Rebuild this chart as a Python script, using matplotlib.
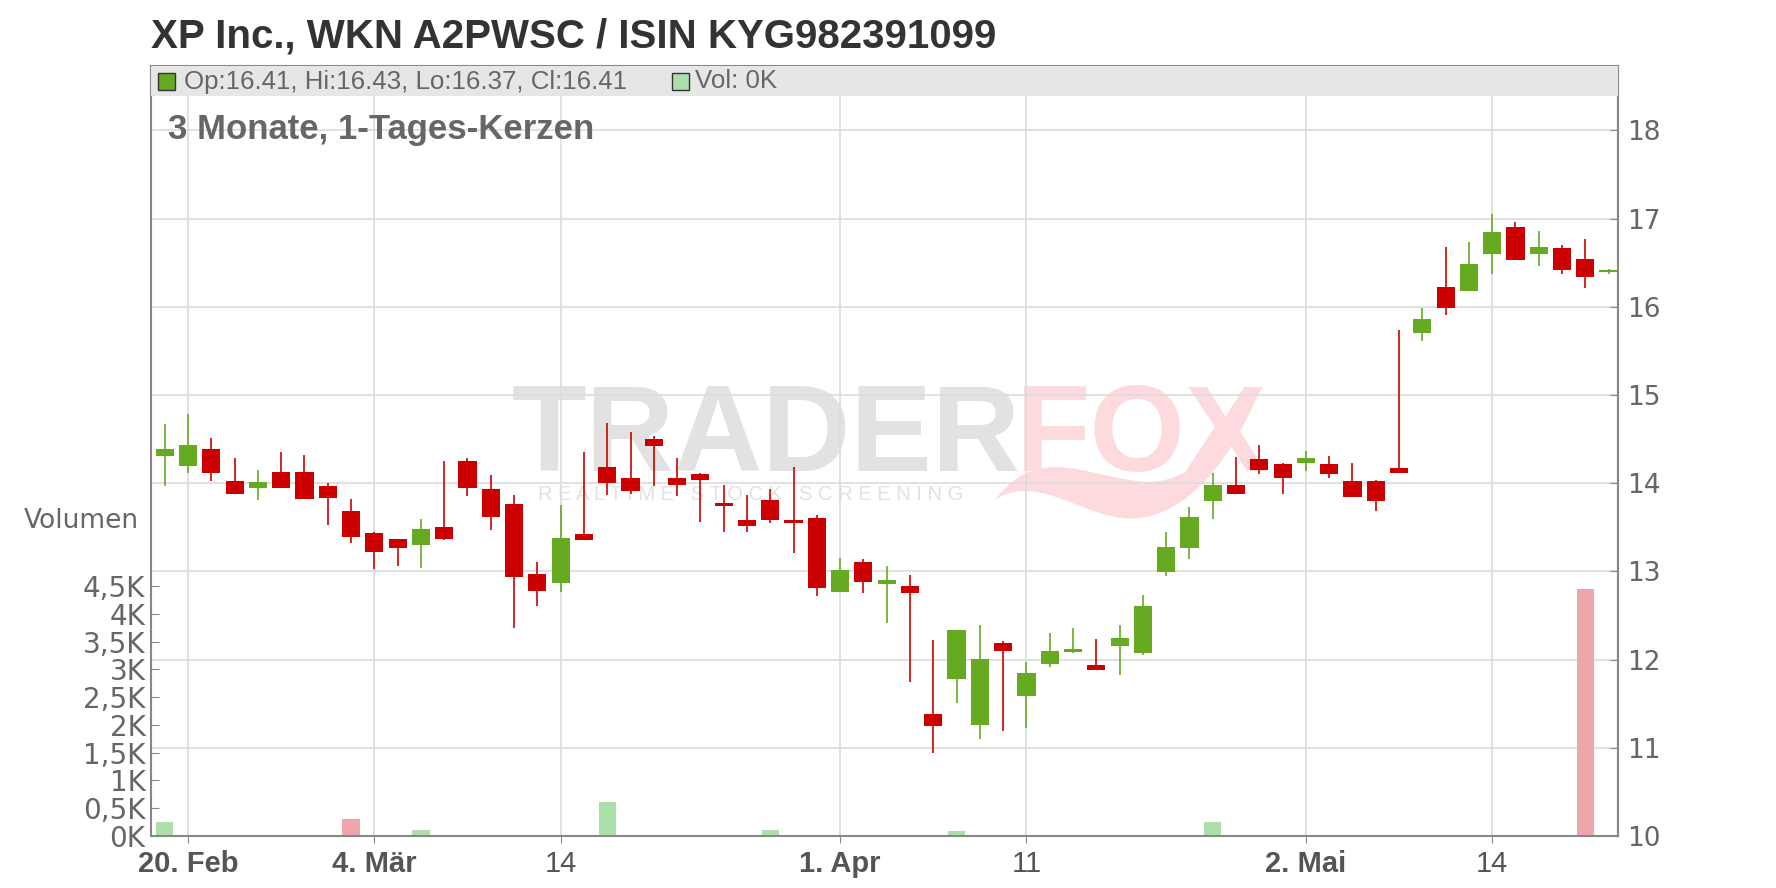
import matplotlib
matplotlib.use("Agg")
import matplotlib.pyplot as plt
import matplotlib.transforms as mtransforms
from matplotlib.patches import Rectangle, PathPatch
from matplotlib.path import Path

plt.rcParams['font.family'] = ['Liberation Sans', 'DejaVu Sans']

# --- daten (Xetra-Handelstage 19.02.2025 - 21.05.2025) ---
dates = ["2025-02-19", "2025-02-20", "2025-02-21", "2025-02-24", "2025-02-25", "2025-02-26",
         "2025-02-27", "2025-02-28", "2025-03-03", "2025-03-04", "2025-03-05", "2025-03-06",
         "2025-03-07", "2025-03-10", "2025-03-11", "2025-03-12", "2025-03-13", "2025-03-14",
         "2025-03-17", "2025-03-18", "2025-03-19", "2025-03-20", "2025-03-21", "2025-03-24",
         "2025-03-25", "2025-03-26", "2025-03-27", "2025-03-28", "2025-03-31", "2025-04-01",
         "2025-04-02", "2025-04-03", "2025-04-04", "2025-04-07", "2025-04-08", "2025-04-09",
         "2025-04-10", "2025-04-11", "2025-04-14", "2025-04-15", "2025-04-16", "2025-04-17",
         "2025-04-22", "2025-04-23", "2025-04-24", "2025-04-25", "2025-04-28", "2025-04-29",
         "2025-04-30", "2025-05-02", "2025-05-05", "2025-05-06", "2025-05-07", "2025-05-08",
         "2025-05-09", "2025-05-12", "2025-05-13", "2025-05-14", "2025-05-15", "2025-05-16",
         "2025-05-19", "2025-05-20", "2025-05-21"]

opens = [14.31, 14.20, 14.39, 14.02, 13.94, 14.13, 14.13, 13.97, 13.69, 13.43,
         13.37, 13.30, 13.50, 14.25, 13.93, 13.76, 12.97, 12.87, 13.42, 14.18,
         14.06, 14.50, 14.06, 14.10, 13.77, 13.58, 13.81, 13.58, 13.60, 12.77,
         13.105, 12.86, 12.84, 11.38, 11.78, 11.26, 12.19, 11.59, 11.95, 12.09,
         11.94, 12.15, 12.08, 12.99, 13.26, 13.80, 13.985, 14.27, 14.22, 14.23,
         14.22, 14.02, 14.02, 14.17, 15.70, 16.22, 16.18, 16.60, 16.90, 16.60,
         16.67, 16.54, 16.41]
highs = [14.67, 14.78, 14.51, 14.28, 14.15, 14.35, 14.32, 14.00, 13.82, 13.45,
         13.37, 13.59, 14.25, 14.28, 14.09, 13.87, 13.11, 13.75, 14.35, 14.68,
         14.58, 14.53, 14.28, 14.11, 13.98, 13.87, 13.93, 14.18, 13.64, 13.15,
         13.14, 13.06, 12.96, 12.22, 12.33, 12.39, 12.21, 11.97, 12.30, 12.36,
         12.23, 12.39, 12.73, 13.45, 13.735, 14.12, 14.30, 14.43, 14.23, 14.37,
         14.31, 14.23, 14.04, 15.74, 15.99, 16.68, 16.73, 17.05, 16.96, 16.86,
         16.70, 16.77, 16.43]
lows = [13.97, 14.12, 14.02, 13.88, 13.81, 13.94, 13.82, 13.53, 13.32, 13.03,
        13.06, 13.04, 13.36, 13.85, 13.47, 12.36, 12.61, 12.77, 13.36, 13.87,
        13.88, 13.97, 13.86, 13.56, 13.45, 13.45, 13.55, 13.21, 12.72, 12.77,
        12.75, 12.41, 11.75, 10.94, 11.51, 11.10, 11.19, 11.23, 11.92, 12.07,
        11.885, 11.83, 12.05, 12.95, 13.14, 13.59, 13.875, 14.10, 13.875, 14.14,
        14.06, 13.84, 13.68, 14.11, 15.61, 15.91, 16.18, 16.37, 16.53, 16.46,
        16.37, 16.21, 16.37]
closes = [14.39, 14.43, 14.11, 13.88, 14.01, 13.94, 13.82, 13.83, 13.39, 13.22,
          13.26, 13.48, 13.37, 13.94, 13.62, 12.94, 12.78, 13.38, 13.36, 14.00,
          13.91, 14.42, 13.98, 14.04, 13.74, 13.52, 13.585, 13.55, 12.81, 13.015,
          12.88, 12.90, 12.76, 11.25, 12.33, 12.01, 12.10, 11.85, 12.10, 12.12,
          11.885, 12.25, 12.61, 13.28, 13.62, 13.985, 13.875, 14.15, 14.06, 14.29,
          14.10, 13.84, 13.80, 14.11, 15.86, 15.985, 16.49, 16.85, 16.53, 16.68,
          16.42, 16.34, 16.41]
# volumen in tausend stueck
volumes = [0.25, 0, 0.02, 0, 0, 0, 0, 0, 0.30, 0,
           0, 0.11, 0, 0, 0, 0, 0, 0, 0, 0.61,
           0, 0, 0, 0, 0, 0, 0.11, 0, 0, 0,
           0, 0, 0, 0, 0.09, 0, 0, 0, 0, 0,
           0, 0, 0, 0, 0, 0.25, 0, 0, 0, 0,
           0, 0, 0, 0, 0, 0, 0, 0, 0, 0,
           0, 4.45, 0]

tick_dates = ["2025-02-20", "2025-03-04", "2025-03-14", "2025-04-01",
              "2025-04-11", "2025-05-02", "2025-05-14"]
tick_labels = ["20. Feb", "4. Mär", "14", "1. Apr", "11", "2. Mai", "14"]
tick_bold = [True, True, False, True, False, True, False]

price_ticks = [10, 11, 12, 13, 14, 15, 16, 17, 18]
vol_ticks = [0, 0.5, 1, 1.5, 2, 2.5, 3, 3.5, 4, 4.5]
vol_labels = ["0K", "0,5K", "1K", "1,5K", "2K", "2,5K", "3K", "3,5K", "4K", "4,5K"]

title = "XP Inc., WKN A2PWSC / ISIN KYG982391099"
subtitle = "3 Monate, 1-Tages-Kerzen"

GREEN = "#66aa22"
RED = "#cc0000"
VGREEN = "#acdfaa"
VRED = "#eea5ac"
GRID = "#dcdcdc"
AXC = "#888888"
TXT = "#666666"
WM_GREY = "#e2e2e2"
WM_PINK = "#fcdadd"

W, H = 1776, 888


def fx(x):
    return x / W


def fy(y):
    return 1 - y / H


fig = plt.figure(figsize=(W / 100, H / 100), dpi=100)
L, R, T, B = 151, 1617.5, 66, 836
ax_vol = fig.add_axes([fx(L), fy(B), (R - L) / W, (B - T) / H])
ax_px = ax_vol.twinx()

n = len(dates)
xs = list(range(n))
ax_vol.set_xlim(-0.59, 62.38)
ax_px.set_ylim(10, 18.73)
ax_vol.set_ylim(0, 13.87)

# wasserzeichen
ax_vol.text(fx(512), fy(439), "TRADER", transform=fig.transFigure, fontsize=88,
            fontweight='bold', color=WM_GREY, ha='left', va='center', zorder=0)
ax_vol.text(fx(1016), fy(439), "FOX", transform=fig.transFigure, fontsize=88,
            fontweight='bold', color=WM_PINK, ha='left', va='center', zorder=0)
ax_vol.text(fx(538), fy(494), " ".join("REALTIME STOCK SCREENING"), transform=fig.transFigure,
            fontsize=14.5, color=WM_GREY, ha='left', va='center', zorder=0)
sw = [(995, 500), (1040, 470), (1090, 525), (1140, 518),
      (1200, 510), (1240, 440), (1262, 385),
      (1235, 430), (1200, 480), (1150, 482),
      (1090, 480), (1040, 440), (995, 500)]
codes = [Path.MOVETO] + [Path.CURVE4] * 12
ax_vol.add_patch(PathPatch(Path([(fx(a), fy(b)) for a, b in sw], codes),
                           transform=fig.transFigure, facecolor=WM_PINK,
                           edgecolor='none', zorder=0))

# gitter
tick_pos = [dates.index(d) for d in tick_dates]
for p in tick_pos:
    ax_vol.axvline(p, color=GRID, lw=1.2, zorder=1)
blend = mtransforms.blended_transform_factory(ax_vol.transAxes, ax_px.transData)
for p in price_ticks[1:]:
    ax_vol.plot([0, 1], [p, p], transform=blend, color=GRID, lw=1.2, zorder=1)

# volumen
vcol = []
for i in range(n):
    up = i == 0 or closes[i] >= closes[i - 1]
    vcol.append(VGREEN if up else VRED)
ax_vol.bar(xs, volumes, width=0.74, color=vcol, zorder=2)

# kerzen
for i in range(n):
    o, h, l, c = opens[i], highs[i], lows[i], closes[i]
    col = GREEN if c >= o else RED
    ax_px.plot([i, i], [l, h], color=col, lw=1.2, zorder=3, solid_capstyle='butt')
    lo, hi = min(o, c), max(o, c)
    if hi - lo < 0.02:
        ax_px.plot([i - 0.39, i + 0.39], [o, o], color=col, lw=1.5, zorder=4)
    else:
        ax_px.add_patch(Rectangle((i - 0.39, lo), 0.78, hi - lo, facecolor=col,
                                  edgecolor='none', zorder=4))

# legendenband
ax_px.add_patch(Rectangle((0, 1 - 30 / 770), 1, 30 / 770, transform=ax_px.transAxes,
                          facecolor="#e6e6e6", edgecolor='none', zorder=5))
info = "Op:%.2f, Hi:%.2f, Lo:%.2f, Cl:%.2f" % (opens[-1], highs[-1], lows[-1], closes[-1])
fig.patches.append(Rectangle((fx(158), fy(90)), 17 / W, 17 / H, transform=fig.transFigure,
                             facecolor=GREEN, edgecolor="#333333", lw=1.0, zorder=6))
fig.text(fx(184), fy(81.5), info, fontsize=18.6, color=TXT, va='center', ha='left')
fig.patches.append(Rectangle((fx(672), fy(90)), 17 / W, 17 / H, transform=fig.transFigure,
                             facecolor=VGREEN, edgecolor="#333333", lw=1.0, zorder=6))
fig.text(fx(695), fy(81.5), "Vol: %dK" % round(volumes[-1]), fontsize=18.6, color=TXT,
         va='center', ha='left')

# achsen
ax_vol.set_xticks(tick_pos)
ax_vol.set_xticklabels(tick_labels)
for lab, b in zip(ax_vol.get_xticklabels(), tick_bold):
    lab.set_fontweight('bold' if b else 'normal')
ax_vol.tick_params(axis='x', direction='out', length=5, color=AXC, labelsize=21,
                   labelcolor="#555555", pad=5)
ax_vol.set_yticks(vol_ticks)
ax_vol.set_yticklabels(vol_labels)
ax_vol.tick_params(axis='y', direction='in', length=6, color=AXC, labelsize=20,
                   labelcolor=TXT, pad=4)
for lab in ax_vol.get_yticklabels():
    lab.set_family('DejaVu Sans')
ax_px.set_yticks(price_ticks)
ax_px.tick_params(axis='y', direction='in', length=6, color=AXC, labelsize=19,
                  labelcolor=TXT, pad=7)
for lab in ax_px.get_yticklabels():
    lab.set_family('DejaVu Sans')
for sp in ax_vol.spines.values():
    sp.set_color(AXC)
    sp.set_linewidth(1.5)
for k in ["left", "bottom", "top"]:
    ax_px.spines[k].set_visible(False)
ax_px.spines["right"].set_color(AXC)
ax_px.spines["right"].set_linewidth(1.5)

fig.text(fx(139), fy(521), "Volumen", fontsize=19, color=TXT, ha='right', va='center',
         family='DejaVu Sans')
fig.text(fx(151), fy(36), title, fontsize=29, fontweight='bold', color="#333333",
         ha='left', va='center')
ax_px.text(fx(168), fy(130), subtitle, transform=fig.transFigure, fontsize=25,
           fontweight='bold', color=TXT, ha='left', va='center', zorder=6)

fig.savefig("out.png", dpi=100)
